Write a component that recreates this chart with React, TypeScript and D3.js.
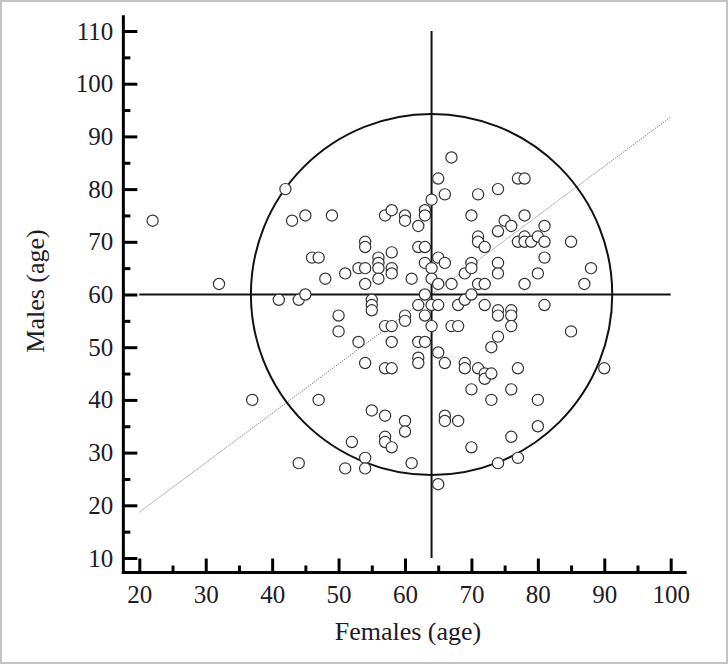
import React, { useRef, useEffect } from 'react';
import * as d3 from 'd3';

// ages, one pair per couple
const females = [
  22, 32, 37, 41, 42, 43, 44, 44, 45, 45, 46, 47, 47, 48, 49, 50, 50, 51, 51, 52,
  53, 53, 54, 54, 54, 54, 54, 54, 54, 55, 55, 55, 55, 56, 56, 56, 56, 57, 57, 57,
  57, 57, 57, 58, 58, 58, 58, 58, 58, 58, 58, 60, 60, 60, 60, 60, 60, 61, 61, 62,
  62, 62, 62, 62, 62, 63, 63, 63, 63, 63, 63, 63, 64, 64, 64, 64, 64, 65, 65, 65,
  65, 65, 65, 66, 66, 66, 66, 66, 67, 67, 67, 68, 68, 68, 69, 69, 69, 69, 70, 70,
  70, 70, 70, 70, 71, 71, 71, 71, 71, 72, 72, 72, 72, 72, 73, 73, 73, 74, 74, 74,
  74, 74, 74, 74, 74, 75, 76, 76, 76, 76, 76, 76, 77, 77, 77, 77, 78, 78, 78, 78,
  78, 79, 80, 80, 80, 80, 81, 81, 81, 81, 85, 85, 87, 88, 90
];
const males = [
  74, 62, 40, 59, 80, 74, 59, 28, 75, 60, 67, 67, 40, 63, 75, 56, 53, 64, 27, 32,
  65, 51, 70, 69, 65, 62, 47, 29, 27, 59, 58, 57, 38, 67, 66, 65, 63, 75, 54, 46,
  37, 33, 32, 76, 68, 65, 64, 54, 51, 46, 31, 75, 74, 56, 55, 36, 34, 63, 28, 73,
  69, 58, 51, 48, 47, 76, 75, 69, 66, 60, 56, 51, 78, 65, 63, 58, 54, 82, 67, 62,
  58, 49, 24, 79, 66, 47, 37, 36, 86, 62, 54, 58, 54, 36, 64, 59, 47, 46, 75, 66,
  65, 60, 42, 31, 79, 71, 70, 62, 46, 69, 62, 58, 45, 44, 50, 45, 40, 80, 72, 66,
  64, 57, 56, 52, 28, 74, 73, 57, 56, 54, 42, 33, 82, 70, 46, 29, 82, 75, 71, 70,
  62, 70, 71, 64, 40, 35, 73, 70, 67, 58, 70, 53, 62, 65, 46
];

const xTicks = [20, 30, 40, 50, 60, 70, 80, 90, 100];
const xMinor = [25, 35, 45, 55, 65, 75, 85, 95];
const yTicks = [10, 20, 30, 40, 50, 60, 70, 80, 90, 100, 110];
const yMinor = [15, 25, 35, 45, 55, 65, 75, 85, 95, 105];
const xExtent = [17.6, 102.4];
const yExtent = [7.25, 113];

const meanFemale = 64;
const meanMale = 60;
const ringRadius = [27.2, 34.25]; // in female / male years
const fitLine = [[20, 18.7], [100, 93.7]];

function App() {
  const ref = useRef(null);

  useEffect(() => {
    const svg = d3.select(ref.current);
    svg.selectAll('*').remove();

    const x = d3.scaleLinear().domain([20, 100]).range([139.3, 670.7]);
    const y = d3.scaleLinear().domain([10, 110]).range([558, 31]);
    const font = "'Liberation Serif', 'Times New Roman', serif";

    svg.append('rect')
      .attr('x', 1).attr('y', 1)
      .attr('width', 726).attr('height', 662)
      .attr('fill', 'white')
      .attr('stroke', '#c4c4c4')
      .attr('stroke-width', 2);

    // fitted line
    svg.append('line')
      .attr('x1', x(fitLine[0][0])).attr('y1', y(fitLine[0][1]))
      .attr('x2', x(fitLine[1][0])).attr('y2', y(fitLine[1][1]))
      .attr('stroke', '#8a8a8a')
      .attr('stroke-width', 1)
      .attr('stroke-dasharray', '1.5,1');

    // ring around the means
    svg.append('ellipse')
      .attr('cx', x(meanFemale)).attr('cy', y(meanMale))
      .attr('rx', x(meanFemale + ringRadius[0]) - x(meanFemale))
      .attr('ry', y(meanMale - ringRadius[1]) - y(meanMale))
      .attr('fill', 'none')
      .attr('stroke', '#111')
      .attr('stroke-width', 2);

    // cross at the means
    svg.append('line')
      .attr('x1', x(meanFemale)).attr('x2', x(meanFemale))
      .attr('y1', y(10)).attr('y2', y(110))
      .attr('stroke', '#111').attr('stroke-width', 2);
    svg.append('line')
      .attr('x1', x(20)).attr('x2', x(100))
      .attr('y1', y(meanMale)).attr('y2', y(meanMale))
      .attr('stroke', '#111').attr('stroke-width', 2);

    svg.append('g')
      .selectAll('circle')
      .data(females.map((f, i) => [f, males[i]]))
      .join('circle')
      .attr('cx', d => x(d[0]))
      .attr('cy', d => y(d[1]))
      .attr('r', 5.6)
      .attr('fill', 'white')
      .attr('stroke', '#333')
      .attr('stroke-width', 1.2);

    const x0 = y(yExtent[0]);
    const y0 = x(xExtent[0]);

    const styleAxis = g => {
      g.select('.domain').remove();
      g.selectAll('line').attr('stroke', '#000').attr('stroke-width', 3);
      g.selectAll('text')
        .attr('fill', '#221a24')
        .style('font-family', font)
        .style('font-size', '25px');
    };

    svg.append('g')
      .attr('transform', 'translate(0,' + x0 + ')')
      .call(d3.axisBottom(x).tickValues(xMinor).tickSizeInner(-7).tickSizeOuter(0).tickFormat(() => ''))
      .call(styleAxis);
    svg.append('g')
      .attr('transform', 'translate(0,' + x0 + ')')
      .call(d3.axisBottom(x).tickValues(xTicks).tickSizeInner(-14).tickSizeOuter(0).tickPadding(13))
      .call(styleAxis);

    svg.append('g')
      .attr('transform', 'translate(' + y0 + ',0)')
      .call(d3.axisLeft(y).tickValues(yMinor).tickSizeInner(-7).tickSizeOuter(0).tickFormat(() => ''))
      .call(styleAxis);
    svg.append('g')
      .attr('transform', 'translate(' + y0 + ',0)')
      .call(d3.axisLeft(y).tickValues(yTicks).tickSizeInner(-14).tickSizeOuter(0).tickPadding(10))
      .call(styleAxis);

    svg.append('line')
      .attr('x1', x(xExtent[0]) - 1.5).attr('x2', x(xExtent[1]))
      .attr('y1', x0).attr('y2', x0)
      .attr('stroke', '#000').attr('stroke-width', 3);
    svg.append('line')
      .attr('x1', y0).attr('x2', y0)
      .attr('y1', y(yExtent[0]) + 1.5).attr('y2', y(yExtent[1]))
      .attr('stroke', '#000').attr('stroke-width', 3);

    svg.append('text')
      .attr('x', 408)
      .attr('y', 640)
      .attr('text-anchor', 'middle')
      .attr('fill', '#221a24')
      .style('font-family', font)
      .style('font-size', '26px')
      .text('Females (age)');

    svg.append('text')
      .attr('transform', 'translate(44,291) rotate(-90)')
      .attr('text-anchor', 'middle')
      .attr('fill', '#221a24')
      .style('font-family', font)
      .style('font-size', '26px')
      .text('Males (age)');
  }, []);

  return (
    <svg ref={ref} width={728} height={664} style={{ position: 'absolute', left: 0, top: 0 }} />
  );
}

export default App;
